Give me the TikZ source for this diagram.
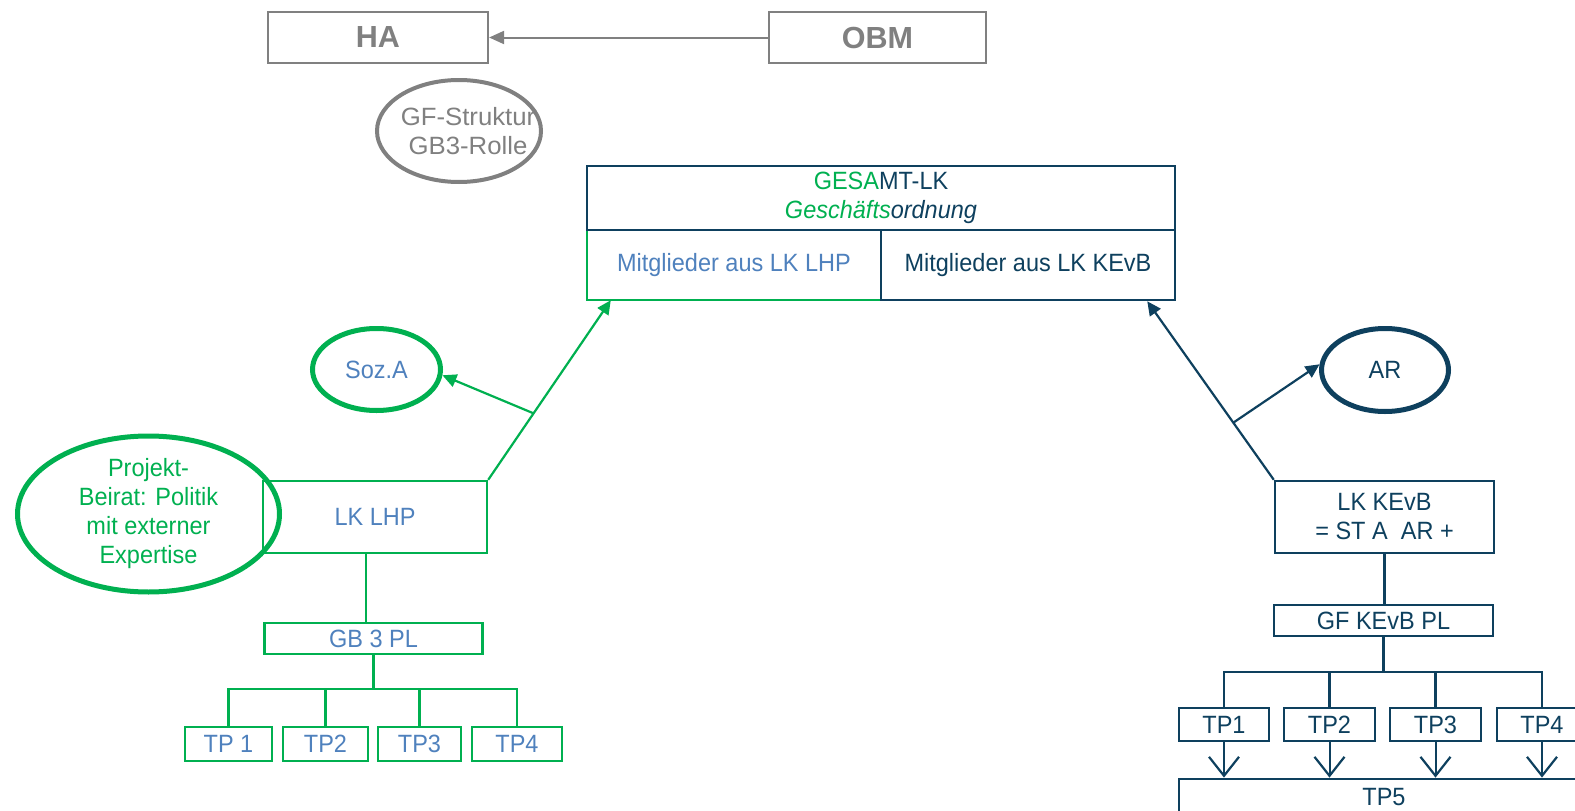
\documentclass[tikz,border=0pt]{standalone}
\usepackage{fontspec}
\setmainfont[FakeStretch=0.94]{Liberation Sans}
\newfontfamily\plainfont{Liberation Sans}
\newfontfamily\gffont[FakeStretch=1.03]{Liberation Sans}
\usetikzlibrary{arrows.meta,shapes.geometric,calc}
\definecolor{grn}{RGB}{0,176,80}
\definecolor{dblue}{RGB}{14,64,94}
\definecolor{lblue}{RGB}{79,129,189}
\definecolor{gry}{RGB}{128,128,128}
\newcommand\myfs{\fontsize{25}{29}\selectfont}
\newcommand\mybig{\plainfont\fontsize{30.5}{34}\selectfont\bfseries}
\begin{document}
\begin{tikzpicture}[x=1pt,y=-1pt,
  every node/.style={inner sep=0pt, align=center, font=\myfs},
  graybox/.style={rectangle, draw=gry, line width=2.2pt, text=gry, font=\mybig},
  greenbox/.style={rectangle, draw=grn, line width=2.4pt, text=lblue},
  bluebox/.style={rectangle, draw=dblue, line width=2.4pt, text=dblue},
  blueboxthick/.style={rectangle, draw=dblue, line width=2.8pt, text=dblue},
  greenell/.style={ellipse, draw=grn, line width=5pt},
  blueell/.style={ellipse, draw=dblue, line width=5pt, text=dblue},
  grayell/.style={ellipse, draw=gry, line width=4pt},
  graytext/.style={text=gry, font=\gffont\fontsize{25}{29}\selectfont},
  garrow/.style={draw=grn, line width=2.2pt, -{Triangle[length=14pt,width=13pt]}},
  barrow/.style={draw=dblue, line width=2.2pt, -{Triangle[length=14pt,width=13pt]}},
  grayarrow/.style={draw=gry, line width=2pt, -{Triangle[length=15pt,width=13pt]}},
  gline/.style={draw=grn, line width=2.2pt},
  bline/.style={draw=dblue, line width=2.8pt},
  varrow/.style={draw=dblue, line width=2pt, -{Straight Barb[length=19pt,width=30pt,line width=2.2pt]}}
]
\useasboundingbox (0,0) rectangle (1575,811);
\clip (0,0) rectangle (1575,811);

% top
\node[graybox, minimum width=220pt, minimum height=51pt] (ha) at (378,37.5) {HA};
\node[graybox, minimum width=217pt, minimum height=51pt] (obm) at (877.5,37.5) {OBM};
\draw[grayarrow] (obm.west) -- (ha.east);
\node[grayell, minimum width=164pt, minimum height=102pt] (gf) at (459,131) {};
\node[graytext] (gftext) at ([xshift=9pt]gf.center) {GF-Struktur\\GB3-Rolle};

% GESAMT-LK
\node[minimum width=294pt, minimum height=70pt, text=lblue] (gleft) at (734,265) {Mitglieder aus LK LHP};
\draw[grn, line width=2.5pt] (gleft.north west) -- (gleft.south west) -- (gleft.south east);
\node[rectangle, draw=dblue, line width=2.5pt, minimum width=294pt, minimum height=70pt, text=dblue] (gright) at (1028,265) {Mitglieder aus LK KEvB};
\node[rectangle, draw=dblue, line width=2.5pt, minimum width=588pt, minimum height=64pt, text=dblue] (gtop) at (881,198)
  {{\color{grn}GESA}MT-LK\\{\itshape{\color{grn}Geschäfts}ordnung}};
\coordinate (gin) at ([xshift=24pt]gleft.south west);
\coordinate (bin) at ([xshift=-29pt]gright.south east);

% left branch
\node[greenbox, minimum width=224pt, minimum height=72pt] (lklhp) at (375,517) {LK LHP};
\node[greenell, minimum width=262pt, minimum height=125pt, text=grn] (proj) at (148.5,514)
  {Projekt-\\Beirat: Politik\\mit externer\\Expertise};
\node[greenell, minimum width=128pt, minimum height=82pt, text=lblue] (soz) at (376.5,369.5) {Soz.A};
\draw[garrow] (lklhp.north east) -- (gin);
\coordinate (gbr) at ($(lklhp.north east)!0.37!(gin)$);
\draw[garrow] (gbr) -- (soz.-5);

\node[greenbox, minimum width=218pt, minimum height=31pt] (gb3) at (373.5,638.5) {GB 3 PL};
\draw[gline] ([xshift=-9pt]lklhp.south) -- ([xshift=-9pt]lklhp.south |- gb3.north);
\node[greenbox, minimum width=87pt, minimum height=34pt] (ltp1) at (228.5,744) {TP 1};
\node[greenbox, minimum width=85pt, minimum height=34pt] (ltp2) at (325.5,744) {TP2};
\node[greenbox, minimum width=83pt, minimum height=34pt] (ltp3) at (419.5,744) {TP3};
\node[greenbox, minimum width=90pt, minimum height=34pt] (ltp4) at (517,744) {TP4};
\coordinate (lbus) at (373.5,689);
\draw[gline] (gb3.south) -- (lbus);
\draw[gline] (ltp1.north) |- (lbus) -| (ltp4.north);
\draw[gline] (ltp2.north) -- (ltp2.north |- lbus);
\draw[gline] (ltp3.north) -- (ltp3.north |- lbus);

% right branch
\node[bluebox, minimum width=219pt, minimum height=72pt] (lkkevb) at (1384.5,517) {LK KEvB\\= ST A~~AR +};
\node[blueell, minimum width=127pt, minimum height=83pt] (ar) at (1385,370) {AR};
\draw[barrow] (lkkevb.north west) -- (bin);
\coordinate (bbr) at ($(lkkevb.north west)!0.32!(bin)$);
\draw[barrow] (bbr) -- (ar.175);

\node[blueboxthick, minimum width=219pt, minimum height=31pt] (gfk) at (1383.5,620.5) {GF KEvB PL};
\draw[bline] (lkkevb.south) -- (lkkevb.south |- gfk.north);
\node[blueboxthick, minimum width=90pt, minimum height=33pt] (rtp1) at (1224,724.5) {TP1};
\node[blueboxthick, minimum width=91pt, minimum height=33pt] (rtp2) at (1329.5,724.5) {TP2};
\node[blueboxthick, minimum width=91pt, minimum height=33pt] (rtp3) at (1435.5,724.5) {TP3};
\node[blueboxthick, minimum width=90pt, minimum height=33pt] (rtp4) at (1542,724.5) {TP4};
\coordinate (rbus) at (1383.5,672);
\draw[draw=dblue, line width=3.4pt] (gfk.south) -- (rbus);
\draw[bline] (rtp1.north) |- (rbus) -| (rtp4.north);
\draw[bline] (rtp2.north) -- (rtp2.north |- rbus);
\draw[bline] (rtp3.north) -- (rtp3.north |- rbus);
\node[blueboxthick, minimum width=410pt, minimum height=36pt] (tp5) at (1384,797) {TP5};
\draw[varrow] (rtp1.south) -- (rtp1.south |- tp5.north);
\draw[varrow] (rtp2.south) -- (rtp2.south |- tp5.north);
\draw[varrow] (rtp3.south) -- (rtp3.south |- tp5.north);
\draw[varrow] (rtp4.south) -- (rtp4.south |- tp5.north);
\end{tikzpicture}
\end{document}
